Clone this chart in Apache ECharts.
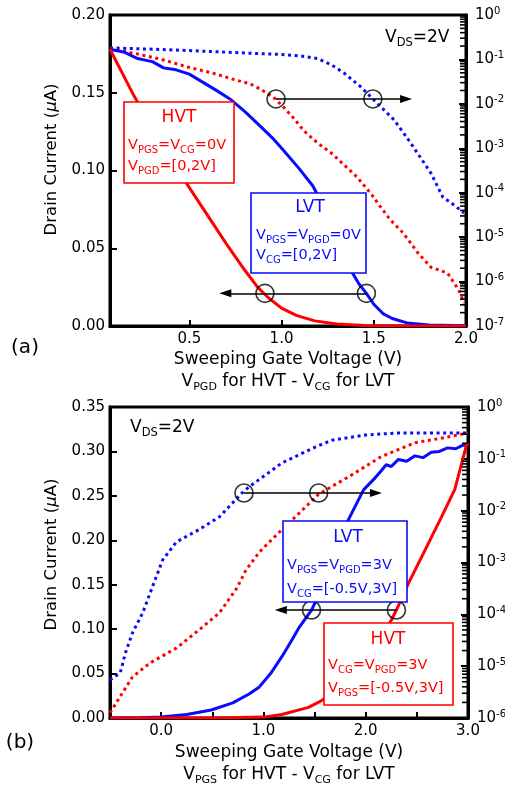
<!DOCTYPE html>
<html><head><meta charset="utf-8">
<script src="https://cdn.jsdelivr.net/npm/echarts@6/dist/echarts.min.js"></script>
<style>html,body{margin:0;padding:0;background:#fff}#c{width:505px;height:791px}</style>
</head><body><div id="c"></div>
<script>
const FONT = 'DejaVu Sans';
const RED = '#ff0000', BLUE = '#0a0aff';

// ---------- panel (a) ----------
const aXMin = 0.07, aXMax = 2.0;
const aXLabels = [0.5, 1.0, 1.5, 2.0];
const aHvtLin = [[0.07,0.178],[0.20,0.148],[0.35,0.117],[0.50,0.089],[0.60,0.071],[0.70,0.053],[0.80,0.036],[0.87,0.025],[0.93,0.018],[1.00,0.0115],[1.08,0.0068],[1.18,0.0033],[1.30,0.0013],[1.45,0.0004],[1.65,0.0001],[2.00,0.0]];
const aLvtLin = [[0.07,0.178],[0.15,0.176],[0.22,0.172],[0.26,0.171],[0.30,0.170],[0.36,0.166],[0.42,0.165],[0.50,0.162],[0.57,0.157],[0.64,0.152],[0.72,0.146],[0.80,0.138],[0.88,0.129],[0.95,0.121],[1.01,0.113],[1.09,0.102],[1.17,0.090],[1.24,0.074],[1.30,0.057],[1.375,0.036],[1.42,0.027],[1.46,0.021],[1.50,0.014],[1.55,0.008],[1.60,0.0048],[1.68,0.002],[1.80,0.0006],[2.00,0.0002]];
const aLvtLog = [[0.07,0.182],[0.30,0.170],[0.55,0.155],[0.83,0.138],[1.00,0.129],[1.10,0.120],[1.195,0.105],[1.27,0.0759],[1.34,0.0490],[1.43,0.0240],[1.495,0.0129],[1.61,4.37e-3],[1.70,1.32e-3],[1.81,2.75e-4],[1.875,7.9e-5],[1.92,5.9e-5],[1.99,3.5e-5]];
const aHvtLog = [[0.07,0.174],[0.20,0.138],[0.35,0.100],[0.49,0.0676],[0.62,0.0501],[0.74,0.0355],[0.83,0.0282],[0.89,0.0209],[0.956,0.0141],[1.01,8.5e-3],[1.065,4.8e-3],[1.12,2.5e-3],[1.195,1.32e-3],[1.27,7.8e-4],[1.34,4.2e-4],[1.41,2.24e-4],[1.50,7.9e-5],[1.52,5.9e-5],[1.59,2.45e-5],[1.66,1.23e-5],[1.74,4.4e-6],[1.81,2.1e-6],[1.90,1.55e-6],[1.96,6.5e-7],[1.99,3.3e-7]];
const aCirclesLog = [[0.97,0.0129],[1.495,0.0129]];
const aArrowLog = [[0.97,0.0129],[1.675,0.0129]];
const aCirclesLin = [[0.91,0.021],[1.46,0.021]];
const aArrowLin = [[1.46,0.021],[0.695,0.021]];

// ---------- panel (b) ----------
const bXMin = -0.5, bXMax = 3.0;
const bXLabels = [0, 1, 2, 3];
const bXTicks = [0, 0.5, 1, 1.5, 2, 2.5];
const bLvtLin = [[-0.5,0.0],[-0.2,0.0002],[0.0,0.001],[0.25,0.004],[0.49,0.009],[0.70,0.017],[0.86,0.027],[0.96,0.035],[1.07,0.050],[1.18,0.069],[1.27,0.086],[1.35,0.102],[1.47,0.1215],[1.58,0.148],[1.70,0.185],[1.83,0.223],[1.98,0.257],[2.09,0.270],[2.15,0.278],[2.20,0.285],[2.25,0.283],[2.32,0.291],[2.40,0.289],[2.48,0.295],[2.56,0.293],[2.64,0.299],[2.72,0.300],[2.80,0.304],[2.88,0.303],[2.95,0.307],[3.00,0.307]];
const bHvtLin = [[-0.5,0.0],[0.5,0.0],[1.00,0.001],[1.18,0.004],[1.44,0.012],[1.56,0.019],[1.70,0.030],[1.85,0.045],[2.00,0.066],[2.15,0.092],[2.25,0.110],[2.30,0.1215],[2.42,0.152],[2.58,0.189],[2.74,0.226],[2.87,0.257],[2.93,0.283],[2.98,0.305],[3.00,0.310]];
const bLvtLog = [[-0.5,5.4e-6],[-0.40,7.4e-6],[-0.35,1.78e-5],[-0.28,4.4e-5],[-0.18,1.07e-4],[-0.09,3.2e-4],[0.015,1.12e-3],[0.15,2.5e-3],[0.37,4.3e-3],[0.57,7.6e-3],[0.79,0.0219],[0.86,0.0288],[1.18,0.083],[1.51,0.170],[1.67,0.229],[2.00,0.288],[2.32,0.316],[3.00,0.316]];
const bHvtLog = [[-0.5,1.26e-6],[-0.40,2.6e-6],[-0.28,6.2e-6],[-0.11,1.15e-5],[0.15,2.24e-5],[0.37,5.0e-5],[0.57,1.07e-4],[0.74,3.2e-4],[0.83,7.2e-4],[0.96,1.58e-3],[1.05,2.4e-3],[1.18,4.3e-3],[1.28,6.6e-3],[1.41,0.0117],[1.54,0.0209],[1.83,0.0447],[2.15,0.110],[2.48,0.204],[2.80,0.263],[3.00,0.316]];
const bCirclesLog = [[0.81,0.0219],[1.54,0.0219]];
const bArrowLog = [[0.81,0.0219],[2.10,0.0219]];
const bCirclesLin = [[1.47,0.1215],[2.30,0.1215]];
const bArrowLin = [[2.30,0.1215],[1.17,0.1215]];

// log-axis minor tick values (2..9 per decade)
function minorVals(lo, hi){ const r=[]; for(let e=lo;e<hi;e++) for(let k=2;k<=9;k++) r.push(k*Math.pow(10,e)); return r; }

const supRich = { b:{fontSize:15, fontFamily:FONT, color:'#000', lineHeight:18}, s:{fontSize:10, fontFamily:FONT, color:'#000', verticalAlign:'top', lineHeight:12} };
function logLabel(v){ return '{b|10}{s|' + Math.round(Math.log10(v)) + '}'; }

const subRich = { m:{fontSize:17, fontFamily:FONT, color:'#000', lineHeight:22}, s:{fontSize:11, fontFamily:FONT, color:'#000', lineHeight:12, verticalAlign:'bottom'} };

function xAxisCfg(grid, min, max, labels, ticks, name, gap){
  return { type:'value', gridIndex:grid, min:min, max:max,
    axisLine:{show:true, onZero:false, lineStyle:{color:'#000', width:3}},
    axisTick:{show:true, inside:true, length:6, lineStyle:{width:2, color:'#000'}, customValues:ticks},
    axisLabel:{customValues:labels, formatter:v=>v.toFixed(1), fontFamily:FONT, fontSize:15, color:'#000', margin:6},
    splitLine:{show:false},
    name:name, nameLocation:'middle', nameGap:gap,
    nameTextStyle:{fontFamily:FONT, fontSize:17, color:'#000', lineHeight:22, rich:subRich}
  };
}
function yLinCfg(grid, max, pad){
  return { type:'value', gridIndex:grid, min:0, max:max, interval:0.05, position:'left',
    axisLine:{show:true, onZero:false, lineStyle:{color:'#000', width:3}},
    axisTick:{show:true, inside:true, length:7, lineStyle:{width:2, color:'#000'}},
    axisLabel:{formatter:v=>v.toFixed(2), fontFamily:FONT, fontSize:15, color:'#000', margin:5},
    splitLine:{show:false},
    name:'Drain Current ({i|μ}A)', nameLocation:'middle', nameGap:40,
    nameTextStyle:{fontFamily:FONT, fontSize:16.5, color:'#000', padding:[0,0,0,pad],
      rich:{i:{fontStyle:'italic', fontFamily:FONT, fontSize:16.5, color:'#000'}}}
  };
}
function yLogCfg(grid, min, split, margin){
  return { type:'log', logBase:10, gridIndex:grid, min:min, max:1, splitNumber:split, position:'right',
    axisLine:{show:true, onZero:false, lineStyle:{color:'#000', width:3}},
    axisTick:{show:true, inside:true, length:7, lineStyle:{width:2, color:'#000'}},
    axisLabel:{formatter:logLabel, rich:supRich, margin:margin},
    splitLine:{show:false}
  };
}
function line(data, color, dotted, xi, yi, z){
  return { type:'line', xAxisIndex:xi, yAxisIndex:yi, data:data, showSymbol:false, symbol:'none', z:z||2,
    lineStyle:{color:color, width:3, type: dotted ? [3,3.6] : 'solid', cap:'butt'}, animation:false, silent:true };
}
function circles(data, xi, yi){
  return { type:'scatter', xAxisIndex:xi, yAxisIndex:yi, data:data, symbol:'circle', symbolSize:18, z:20,
    itemStyle:{color:'rgba(0,0,0,0)', borderColor:'#000', borderWidth:1.6}, animation:false, silent:true };
}
function arrow(data, xi, yi){
  return { type:'line', xAxisIndex:xi, yAxisIndex:yi, data:[], symbol:'none', z:19, animation:false, silent:true,
    markLine:{ silent:true, animation:false, symbol:['none','triangle'], symbolSize:[8,12], label:{show:false},
      lineStyle:{color:'#000', width:1.6, type:'solid'},
      data:[[{coord:data[0]},{coord:data[1]}]] } };
}

// annotation text helpers
function boxText(x, y, color, parts, align){
  const rich = { m:{fontSize:14.5, fontFamily:FONT, fill:color, lineHeight:20},
                 s:{fontSize:10, fontFamily:FONT, fill:color, lineHeight:11, verticalAlign:'bottom'},
                 h:{fontSize:17, fontFamily:FONT, fill:color, lineHeight:22},
                 hs:{fontSize:11.5, fontFamily:FONT, fill:color, lineHeight:13, verticalAlign:'bottom'} };
  return { type:'text', x:x, y:y, z:101, style:{ text:parts, rich:rich, fill:color, align:align||'left', verticalAlign:'middle', fontFamily:FONT } };
}
function rect(x, y, w, h, color){
  return { type:'rect', z:100, shape:{x:x, y:y, width:w, height:h}, style:{fill:'#fff', stroke:color, lineWidth:1.6} };
}

const chart = echarts.init(document.getElementById('c'), null, {renderer:'canvas'});
chart.setOption({
  backgroundColor:'#fff',
  animation:false,
  grid:[
    {left:110, top:15, width:356, height:311, show:true, borderColor:'#000', borderWidth:3, backgroundColor:'transparent', containLabel:false, outerBoundsMode:'none'},
    {left:110, top:407, width:358, height:311, show:true, borderColor:'#000', borderWidth:3, backgroundColor:'transparent', containLabel:false, outerBoundsMode:'none'}
  ],
  xAxis:[
    xAxisCfg(0, aXMin, aXMax, aXLabels, aXLabels, 'Sweeping Gate Voltage (V)\n{m|V}{s|PGD}{m| for HVT - V}{s|CG}{m| for LVT}', 23),
    xAxisCfg(1, bXMin, bXMax, bXLabels, bXTicks, 'Sweeping Gate Voltage (V)\n{m|V}{s|PGS}{m| for HVT - V}{s|CG}{m| for LVT}', 24)
  ],
  yAxis:[
    yLinCfg(0, 0.20, 22),
    yLogCfg(0, 1e-7, 7, 9),
    yLinCfg(1, 0.35, 16),
    yLogCfg(1, 1e-6, 6, 9)
  ],
  series:[
    line(aLvtLog, BLUE, true, 0, 1),
    line(aHvtLog, RED, true, 0, 1),
    line(aLvtLin, BLUE, false, 0, 0, 3),
    line(aHvtLin, RED, false, 0, 0, 4),
    circles(aCirclesLog, 0, 1), arrow(aArrowLog, 0, 1),
    circles(aCirclesLin, 0, 0), arrow(aArrowLin, 0, 0),

    line(bLvtLog, BLUE, true, 1, 3),
    line(bHvtLog, RED, true, 1, 3),
    line(bLvtLin, BLUE, false, 1, 2, 3),
    line(bHvtLin, RED, false, 1, 2, 4),
    circles(bCirclesLog, 1, 3), arrow(bArrowLog, 1, 3),
    circles(bCirclesLin, 1, 2), arrow(bArrowLin, 1, 2)
  ]
});

// minor ticks of the log axes, positioned through the chart's own scales
function minorTickEls(vals, xmax, xi, yi){
  return vals.map(v => {
    const p = chart.convertToPixel({xAxisIndex:xi, yAxisIndex:yi}, [xmax, v]);
    return { type:'line', z:50, shape:{x1:p[0]-6, y1:p[1], x2:p[0], y2:p[1]}, style:{stroke:'#000', lineWidth:1.6} };
  });
}

const annotations = [
  // panel (a)
  boxText(385, 38, '#000', '{h|V}{hs|DS}{h|=2V}'),
  rect(124, 102, 110, 81, RED),
  boxText(179, 118, RED, '{h|HVT}', 'center'),
  boxText(128, 145, RED, '{m|V}{s|PGS}{m|=V}{s|CG}{m|=0V}'),
  boxText(128, 166, RED, '{m|V}{s|PGD}{m|=[0,2V]}'),
  rect(251, 193, 115, 80, BLUE),
  boxText(310, 208, BLUE, '{h|LVT}', 'center'),
  boxText(256, 235, BLUE, '{m|V}{s|PGS}{m|=V}{s|PGD}{m|=0V}'),
  boxText(256, 255, BLUE, '{m|V}{s|CG}{m|=[0,2V]}'),
  {type:'text', x:25, y:348, z:101, style:{text:'(a)', fontFamily:FONT, fontSize:20, fill:'#000', align:'center', verticalAlign:'middle'}},
  // panel (b)
  boxText(130, 428, '#000', '{h|V}{hs|DS}{h|=2V}'),
  rect(283, 521, 124, 81, BLUE),
  boxText(348, 538, BLUE, '{h|LVT}', 'center'),
  boxText(287, 565, BLUE, '{m|V}{s|PGS}{m|=V}{s|PGD}{m|=3V}'),
  boxText(287, 589, BLUE, '{m|V}{s|CG}{m|=[-0.5V,3V]}'),
  rect(324, 623, 129, 82, RED),
  boxText(388, 640, RED, '{h|HVT}', 'center'),
  boxText(328, 665, RED, '{m|V}{s|CG}{m|=V}{s|PGD}{m|=3V}'),
  boxText(328, 688, RED, '{m|V}{s|PGS}{m|=[-0.5V,3V]}'),
  {type:'text', x:20, y:743, z:101, style:{text:'(b)', fontFamily:FONT, fontSize:20, fill:'#000', align:'center', verticalAlign:'middle'}}
];

chart.setOption({
  graphic: annotations
    .concat(minorTickEls(minorVals(-7, 0), aXMax, 0, 1))
    .concat(minorTickEls(minorVals(-6, 0), bXMax, 1, 3))
});
</script>
</body></html>
